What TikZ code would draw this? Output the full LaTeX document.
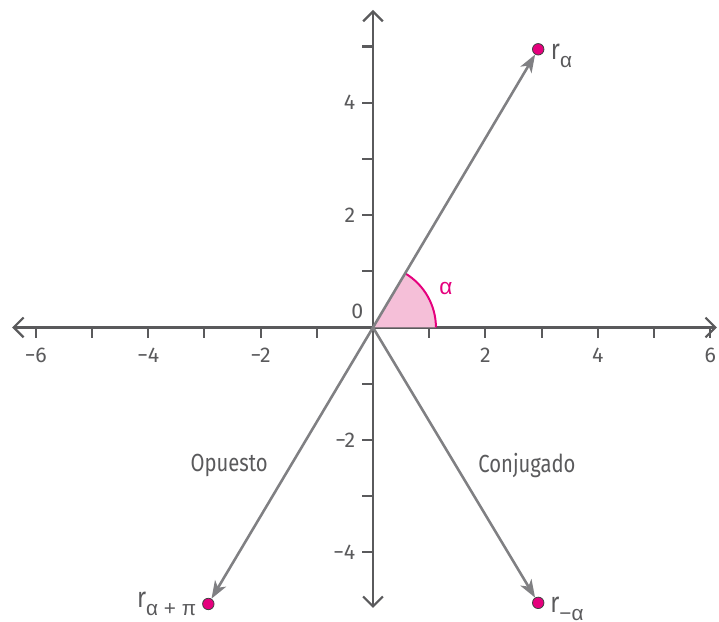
\documentclass[tikz,border=0pt]{standalone}
\usepackage{fontspec}
\setmainfont{Fira Sans}[FakeStretch=0.82]
\newfontfamily\tickfont{Fira Sans}
\newfontfamily\greekfont{Liberation Sans}
\usetikzlibrary{arrows.meta,calc}

\definecolor{axisgray}{HTML}{5A5A5C}
\definecolor{vecgray}{HTML}{808083}
\definecolor{rosa}{HTML}{E5007D}
\definecolor{rosafill}{HTML}{F5BFD8}

\newcommand{\rsub}[1]{\raisebox{-4pt}{\greekfont\fontsize{10.5}{12}\selectfont #1}}

\begin{document}
\begin{tikzpicture}[scale=1,
  axis/.style={draw=axisgray, line width=1.1pt},
  axistip/.style={axis, {Straight Barb[length=5pt,width=10pt]}-{Straight Barb[length=5pt,width=10pt]}},
  vec/.style={draw=vecgray, line width=1.3pt, -{Stealth[length=9pt,width=6.5pt,inset=2.5pt]}},
  dot/.style={circle, fill=rosa, draw=black!75, line width=0.4pt, inner sep=0pt, minimum size=5.8pt},
  ticklab/.style={text=axisgray, inner sep=0pt, font=\tickfont\fontsize{10.8}{12}\selectfont},
  txtlab/.style={text=axisgray, inner sep=0pt, font=\fontsize{12.5}{14}\selectfont},
  rlab/.style={text=axisgray, inner sep=0pt, font=\fontsize{14.5}{16}\selectfont}]

% Frame
\useasboundingbox (-6.637,-5.24) rectangle (6.157,5.827);

% Origin
\coordinate (O) at (0,0);

% Axes
\coordinate (xmin) at (-6.42,0);
\coordinate (xmax) at (6.12,0);
\coordinate (ymin) at (0,-4.99);
\coordinate (ymax) at (0,5.65);
\draw[axistip] (xmin) -- (xmax);
\draw[axistip] (ymin) -- (ymax);

% Ticks
\foreach \x in {-6,...,-1,1,2,...,6}
  \draw[axis] (\x,0) -- (\x,-0.18);
\foreach \y in {-4,...,-1,1,2,...,5}
  \draw[axis] (0,\y) -- (-0.2,\y);

% Tick labels
\foreach \x/\t in {-6/−6,-4/−4,-2/−2,2/2,4/4,6/6}
  \node[ticklab] (xlab\x) at (\x,-0.49) {\t};
\foreach \y/\t in {-4/−4,-2/−2,2/2,4/4}
  \node[ticklab, anchor=east] (ylab\y) at (-0.31,\y) {\t};
\node[ticklab] (zero) at (-0.28,0.28) {0};

% Angle alpha
\fill[rosafill] (O) -- (1.12,0) arc (0:59.2:1.12) -- cycle;
\draw[rosa, line width=1pt] (1.12,0) arc (0:59.2:1.12);
\node[text=rosa, inner sep=0pt, font=\greekfont\fontsize{11.5}{12}\selectfont] (alpha) at (1.3,0.69) {α};

% Points
\node[dot] (ra) at (2.94,4.95) {};
\node[dot] (rc) at (2.94,-4.9) {};
\node[dot] (rp) at (-2.93,-4.92) {};

% Vectors
\draw[vec] (O) -- (ra);
\draw[vec] (O) -- (rc);
\draw[vec] (O) -- (rp);

% Labels
\node[rlab, anchor=base west] (lra) at ($(ra)+(0.22,-0.18)$) {r\rsub{α}};
\node[rlab, anchor=base west] (lrc) at ($(rc)+(0.21,-0.17)$) {r\rsub{−α}};
\node[rlab, anchor=base east] (lrp) at ($(rp)+(-0.21,-0.07)$) {r\rsub{α + π}};
\node[txtlab] (opuesto) at (-2.56,-2.46) {Opuesto};
\node[txtlab] (conjugado) at (2.74,-2.46) {Conjugado};

\end{tikzpicture}
\end{document}
